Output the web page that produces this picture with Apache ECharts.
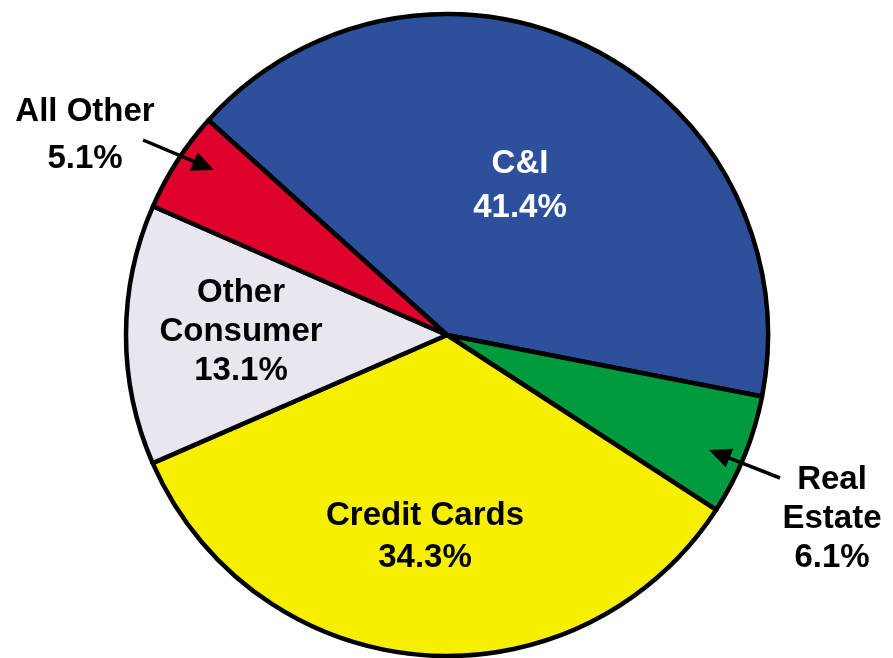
<!DOCTYPE html>
<html>
<head>
<meta charset="utf-8">
<script src="https://cdn.jsdelivr.net/npm/echarts@6/dist/echarts.min.js"></script>
<style>
  html, body { margin: 0; padding: 0; background: #fff; }
  #chart { width: 893px; height: 658px; }
</style>
</head>
<body>
<div id="chart"></div>
<script>
  // slice data, clockwise from the top-left
  var names = ['C&I', 'Real Estate', 'Credit Cards', 'Other Consumer', 'All Other']
  var labelText = ['C&I', 'Real\nEstate', 'Credit Cards', 'Other\nConsumer', 'All Other']
  var shares = [41.4, 6.1, 34.3, 13.1, 5.1]
  var colors = ['#2D509D', '#009B3E', '#F6F000', '#E9E6EF', '#DF002B']
  var textColors = ['#fff', '#000', '#000', '#000', '#000']

  // label placement (layout only)
  var labelPos = [[520, 186], [832, 519], [425, 537], [241, 332], [85, 135]]
  var labelLH = [44, 39, 42, 39, 47]

  // arrows for the small outside slices: [from, tip]
  var arrows = [
    [[143, 140], [214, 170]],
    [[780, 478], [709, 450]]
  ]

  function arrowGraphic(a) {
    var p0 = a[0], p1 = a[1]
    var dx = p1[0] - p0[0], dy = p1[1] - p0[1]
    var len = Math.sqrt(dx * dx + dy * dy)
    var ux = dx / len, uy = dy / len
    var hl = 22, hw = 10
    var bx = p1[0] - ux * hl, by = p1[1] - uy * hl
    return [
      {
        type: 'line',
        shape: { x1: p0[0], y1: p0[1], x2: bx + ux * 2, y2: by + uy * 2 },
        style: { stroke: '#000', lineWidth: 3.5 },
        z: 10
      },
      {
        type: 'polygon',
        shape: { points: [[p1[0], p1[1]], [bx - uy * hw, by + ux * hw], [bx + uy * hw, by - ux * hw]] },
        style: { fill: '#000' },
        z: 10
      }
    ]
  }

  var graphics = []
  arrows.forEach(function (a) { graphics = graphics.concat(arrowGraphic(a)) })

  var data = names.map(function (n, i) {
    return {
      name: n,
      value: shares[i],
      itemStyle: { color: colors[i] },
      label: { color: textColors[i], lineHeight: labelLH[i] }
    }
  })

  var chart = echarts.init(document.getElementById('chart'))
  chart.setOption({
    animation: false,
    graphic: graphics,
    series: [
      {
        type: 'pie',
        center: [447, 335],
        radius: 321,
        startAngle: 138,
        clockwise: true,
        data: data,
        itemStyle: { borderColor: '#000', borderWidth: 4.5 },
        label: {
          show: true,
          position: 'inside',
          fontFamily: 'Liberation Sans, Arial, sans-serif',
          fontWeight: 'bold',
          fontSize: 33,
          align: 'center',
          formatter: function (p) {
            return labelText[p.dataIndex] + '\n' + p.value.toFixed(1) + '%'
          }
        },
        labelLine: { show: false },
        labelLayout: function (p) {
          var pos = labelPos[p.dataIndex]
          return { x: pos[0], y: pos[1], align: 'center', verticalAlign: 'middle' }
        },
        emphasis: { disabled: true }
      }
    ]
  })
</script>
</body>
</html>
